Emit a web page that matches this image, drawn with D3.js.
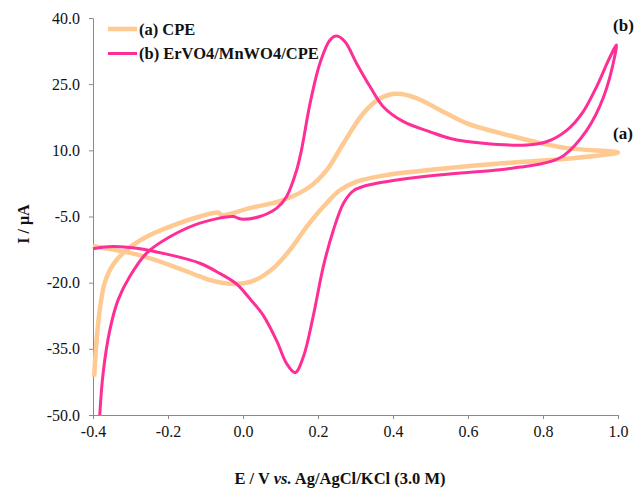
<!DOCTYPE html>
<html>
<head>
<meta charset="utf-8">
<script src="https://cdn.jsdelivr.net/npm/d3@7"></script>
<style>
  body { margin: 0; background: #fff; }
  text { font-family: "Liberation Serif", "Times New Roman", serif; }
</style>
</head>
<body>
<svg id="chart" width="636" height="489"></svg>
<script>
// tick values
const xTicks = [-0.4, -0.2, 0.0, 0.2, 0.4, 0.6, 0.8, 1.0];
const yTicks = [40, 25, 10, -5, -20, -35, -50];

// (a) CPE, potential (V) and current (uA)
const cpeE = [-0.397, -0.391, -0.382, -0.369, -0.347, -0.311, -0.257, -0.195, -0.115, -0.066, -0.057,
  0.018, 0.107, 0.179, 0.223, 0.268, 0.321, 0.366, 0.410, 0.464, 0.526, 0.597, 0.686, 0.775, 0.864, 1.0,
  0.953, 0.846, 0.730, 0.597, 0.472, 0.383, 0.303, 0.259, 0.214, 0.170, 0.125, 0.081, 0.027, -0.026, -0.080,
  -0.115, -0.195, -0.284, -0.355, -0.4];
const cpeI = [-41.3, -33.7, -26.2, -20.1, -16.0, -12.6, -9.6, -7.3, -5.0, -4.1, -4.7,
  -3.1, -1.3, 1.8, 5.5, 11.6, 18.4, 21.8, 22.8, 21.8, 19.1, 16.1, 13.9, 12.0, 10.5, 9.5,
  8.9, 8.0, 7.3, 6.4, 5.3, 4.4, 2.9, 1.0, -2.8, -7.3, -12.6, -16.7, -19.6, -20.3, -19.6,
  -18.6, -16.0, -13.6, -12.4, -11.7];

// (b) ErVO4/MnWO4/CPE
const modE = [-0.382, -0.373, -0.355, -0.333, -0.302, -0.257, -0.195, -0.115, -0.026, -0.013, 0.0, 0.045,
  0.090, 0.116, 0.143, 0.156, 0.179, 0.205, 0.232, 0.250, 0.272, 0.303, 0.339, 0.374, 0.428, 0.499, 0.553,
  0.641, 0.757, 0.811, 0.864, 0.905, 0.945, 0.975, 0.996,
  0.993, 0.962, 0.917, 0.855, 0.825, 0.793, 0.739, 0.686, 0.600, 0.508, 0.419, 0.360, 0.320, 0.294, 0.268, 0.241, 0.214,
  0.187, 0.161, 0.139, 0.116, 0.090, 0.054, 0.018, -0.017, -0.062, -0.115, -0.195, -0.284, -0.347, -0.4];
const modI = [-50.0, -40.5, -30.7, -23.9, -18.6, -13.3, -9.6, -6.5, -5.0, -5.4, -5.6, -5.0,
  -3.1, -0.5, 5.5, 10.1, 20.7, 29.7, 35.0, 35.9, 34.6, 29.7, 24.4, 19.9, 16.5, 14.2, 12.7,
  11.6, 11.2, 12.0, 14.6, 18.5, 24.8, 30.5, 33.9,
  32.0, 22.2, 14.6, 8.8, 7.6, 6.9, 6.2, 5.6, 5.0, 4.3, 3.4, 2.6, 1.8, 0.8, -2.0, -8.1, -16.4,
  -27.7, -36.8, -40.4, -38.3, -33.2, -27.4, -23.6, -20.3, -17.9, -15.6, -13.7, -12.2, -11.8, -12.3];

const seriesNames = ["(a) CPE", "(b) ErVO4/MnWO4/CPE"];
const colors = ["#ffc992", "#ff2e96"];

const svg = d3.select("#chart");
const plotL = 93, plotR = 618, plotT = 18, plotB = 415;

const x = d3.scaleLinear().domain([-0.4, 1.0]).range([plotL, plotR]);
const y = d3.scaleLinear().domain([-50, 40]).range([plotB, plotT]);

// axes
const xAxis = svg.append("g")
  .attr("transform", "translate(0," + plotB + ")")
  .call(d3.axisBottom(x).tickValues(xTicks).tickSize(4).tickSizeOuter(0).tickPadding(7)
    .tickFormat(d => d.toFixed(1)));
const yAxis = svg.append("g")
  .attr("transform", "translate(" + plotL + ",0)")
  .call(d3.axisLeft(y).tickValues(yTicks).tickSize(4).tickSizeOuter(0).tickPadding(9)
    .tickFormat(d => d.toFixed(1)));
[xAxis, yAxis].forEach(a => {
  a.select(".domain").attr("stroke", "#8a8a8a");
  a.selectAll(".tick line").attr("stroke", "#8a8a8a");
  a.selectAll(".tick text").attr("fill", "#111").style("font-size", "16px")
    .style("font-family", "'Liberation Serif', serif");
});

// curves
const line = d3.line().x(d => x(d[0])).y(d => y(d[1])).curve(d3.curveCatmullRom.alpha(0.5));
const cpe = cpeE.map((e, i) => [e, cpeI[i]]);
const mod = modE.map((e, i) => [e, modI[i]]);

svg.append("path").datum(cpe)
  .attr("d", line).attr("fill", "none").attr("stroke", colors[0])
  .attr("stroke-width", 4.5).attr("stroke-linejoin", "round");
svg.append("path").datum(mod)
  .attr("d", line).attr("fill", "none").attr("stroke", colors[1])
  .attr("stroke-width", 3).attr("stroke-linejoin", "round");

// legend
const leg = svg.append("g");
seriesNames.forEach((n, i) => {
  const ly = 29 + i * 24.5;
  leg.append("line").attr("x1", 108).attr("x2", 137).attr("y1", ly).attr("y2", ly)
    .attr("stroke", colors[i]).attr("stroke-width", i === 0 ? 4.5 : 3);
  leg.append("text").attr("x", 139).attr("y", ly + 5.5)
    .attr("font-weight", "bold").attr("font-size", 16.5).attr("fill", "#111").text(n);
});

// curve labels
svg.append("text").attr("x", 623.5).attr("y", 31).attr("text-anchor", "middle")
  .attr("font-weight", "bold").attr("font-size", 17).attr("fill", "#111").text("(b)");
svg.append("text").attr("x", 623).attr("y", 139).attr("text-anchor", "middle")
  .attr("font-weight", "bold").attr("font-size", 17).attr("fill", "#111").text("(a)");

// axis titles
const xt = svg.append("text").attr("x", 340).attr("y", 484).attr("text-anchor", "middle")
  .attr("font-weight", "bold").attr("font-size", 16.5).attr("fill", "#111");
xt.append("tspan").text("E / V ");
xt.append("tspan").attr("font-style", "italic").text("vs.");
xt.append("tspan").text(" Ag/AgCl/KCl (3.0 M)");

svg.append("text").attr("transform", "translate(29,224) rotate(-90)").attr("text-anchor", "middle")
  .attr("font-weight", "bold").attr("font-size", 16).attr("fill", "#111").text("I / μA");
</script>
</body>
</html>
